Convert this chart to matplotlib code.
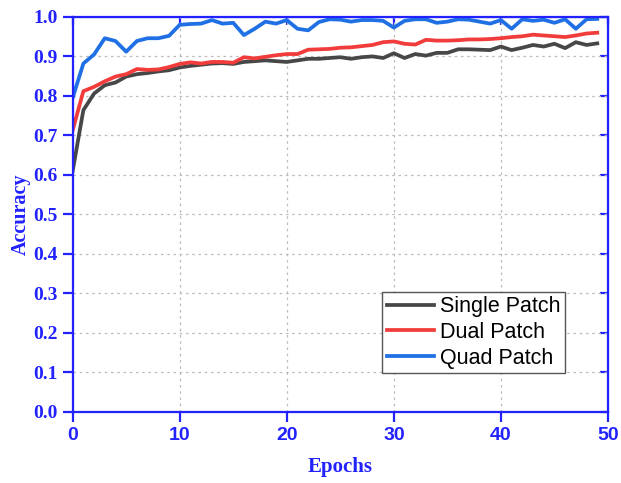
import matplotlib
matplotlib.use("Agg")
import matplotlib.pyplot as plt
import numpy as np

# accuracy per epoch
epochs = np.arange(50)

single_patch = [0.610, 0.764, 0.806, 0.827, 0.834, 0.849, 0.855, 0.858, 0.862, 0.865,
                0.872, 0.876, 0.879, 0.882, 0.883, 0.881, 0.886, 0.888, 0.890, 0.888,
                0.886, 0.890, 0.894, 0.894, 0.896, 0.898, 0.894, 0.898, 0.900, 0.896,
                0.908, 0.896, 0.906, 0.902, 0.909, 0.909, 0.918, 0.918, 0.917, 0.916,
                0.925, 0.916, 0.922, 0.929, 0.925, 0.932, 0.921, 0.936, 0.929, 0.933]

dual_patch = [0.713, 0.812, 0.823, 0.837, 0.849, 0.855, 0.868, 0.866, 0.867, 0.873,
              0.881, 0.885, 0.882, 0.886, 0.886, 0.884, 0.898, 0.895, 0.899, 0.903,
              0.906, 0.906, 0.917, 0.918, 0.919, 0.922, 0.923, 0.926, 0.929, 0.936,
              0.938, 0.932, 0.930, 0.942, 0.940, 0.940, 0.941, 0.943, 0.943, 0.944,
              0.946, 0.949, 0.951, 0.955, 0.953, 0.951, 0.949, 0.953, 0.958, 0.960]

quad_patch = [0.795, 0.882, 0.905, 0.946, 0.939, 0.912, 0.939, 0.946, 0.946, 0.952,
              0.980, 0.982, 0.983, 0.992, 0.983, 0.985, 0.954, 0.970, 0.988, 0.983,
              0.992, 0.970, 0.966, 0.987, 0.994, 0.993, 0.988, 0.992, 0.992, 0.990,
              0.973, 0.990, 0.994, 0.994, 0.985, 0.988, 0.994, 0.993, 0.988, 0.983,
              0.992, 0.970, 0.994, 0.990, 0.993, 0.985, 0.994, 0.970, 0.994, 0.995]

blue = '#2222ff'

fig = plt.figure(figsize=(6.21, 4.83), dpi=100)
ax = fig.add_axes([0.117, 0.147, 0.862, 0.818])

ax.plot(epochs, single_patch, color='#474747', lw=2.7, label='Single Patch')
ax.plot(epochs, dual_patch, color='#f23c3c', lw=2.7, label='Dual Patch')
ax.plot(epochs, quad_patch, color='#1f6fe5', lw=2.7, label='Quad Patch')

ax.set_xlim(0, 50)
ax.set_ylim(0, 1.0)
ax.set_xticks(np.arange(0, 51, 10))
ax.set_yticks(np.arange(0, 1.01, 0.1))
ax.set_yticklabels(['%.1f' % v for v in np.arange(0, 1.01, 0.1)])

ax.grid(True, color='#bbbbbb', linestyle=(0, (2, 3)), linewidth=0.9)

for s in ax.spines.values():
    s.set_color(blue)
    s.set_linewidth(1.6)

ax.tick_params(axis='both', which='major', color=blue, width=1.6, length=7, direction='out',
               labelcolor=blue)

# inward ticks on top and right edges
ax_top = ax.secondary_xaxis('top')
ax_top.set_xticks(np.arange(0, 51, 10))
ax_top.tick_params(direction='in', color=blue, width=1.6, length=6, labeltop=False)
ax_top.spines['top'].set_color(blue)
ax_right = ax.secondary_yaxis('right')
ax_right.set_yticks(np.arange(0, 1.01, 0.1))
ax_right.tick_params(direction='in', color=blue, width=1.6, length=6, labelright=False)
ax_right.spines['right'].set_color(blue)

for lab in ax.get_xticklabels():
    lab.set_fontfamily('Liberation Sans')
    lab.set_fontweight('bold')
    lab.set_fontsize(14)
for lab in ax.get_yticklabels():
    lab.set_fontfamily('Liberation Serif')
    lab.set_fontweight('bold')
    lab.set_fontsize(14)

ax.set_xlabel('Epochs', fontfamily='Liberation Serif', fontweight='bold', fontsize=15,
              color=blue, labelpad=10)
ax.set_ylabel('Accuracy', fontfamily='Liberation Serif', fontweight='bold', fontsize=14.5,
              color=blue, labelpad=2)

leg = ax.legend(loc='lower right', bbox_to_anchor=(0.92, 0.099), fancybox=False,
                prop={'family': 'Liberation Sans', 'size': 15.5}, handlelength=2.2,
                handletextpad=0.3, borderpad=0.2, labelspacing=0.22, borderaxespad=0.0)
leg.get_frame().set_edgecolor('#555555')
leg.get_frame().set_linewidth(1.0)
leg.get_frame().set_alpha(1.0)

fig.savefig('out.png', dpi=100)
